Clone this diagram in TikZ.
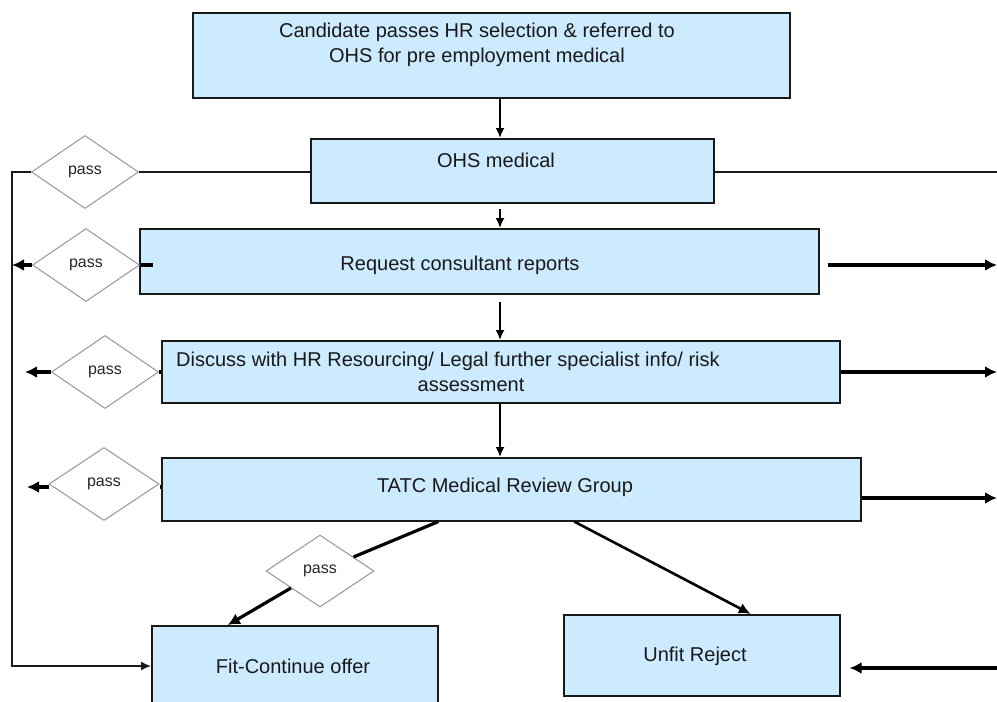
\documentclass[tikz,border=0pt]{standalone}
\usepackage{fontspec}
\setmainfont{Liberation Sans}
\usetikzlibrary{shapes.geometric,arrows.meta}
\definecolor{boxblue}{RGB}{204,235,255}
\definecolor{dgray}{RGB}{150,150,150}
\tikzset{
  box/.style={draw=black!90, line width=1.6pt, fill=boxblue, inner sep=0pt, anchor=north west},
  boxtext/.style={font=\fontsize{20}{25}\selectfont, align=center, inner sep=0pt, text=black!90},
  passd/.style={draw=dgray, line width=1pt, fill=white, shape=diamond, inner sep=0pt,
     minimum width=107pt, minimum height=73pt, font=\fontsize{16}{18}\selectfont, text=black!85},
  thin/.style={line width=1.5pt, black!90},
  down/.style={line width=1.8pt, -{Latex[length=10pt,width=9pt]}},
  fat/.style={line width=3.2pt, -{Latex[length=12pt,width=12pt]}},
}
\begin{document}
\begin{tikzpicture}[x=1pt,y=-1pt]
\clip (0,0) rectangle (997,702);
\fill[white] (0,0) rectangle (997,702);
% boxes
\node[box, minimum width=597pt, minimum height=85pt] (b1) at (192,12) {};
\node[box, minimum width=403pt, minimum height=64pt] (ohs) at (310,138) {};
\node[box, minimum width=679pt, minimum height=65pt] (req) at (139,228) {};
\node[box, minimum width=678pt, minimum height=62pt] (disc) at (161,340) {};
\node[box, minimum width=699pt, minimum height=63pt] (tatc) at (161,457) {};
\node[box, minimum width=286pt, minimum height=85pt] (fit) at (151,625) {};
\node[box, minimum width=276pt, minimum height=81pt] (unfit) at (563,614) {};
% texts
\node[boxtext] (t1) at (477,45) {Candidate passes HR selection \& referred to\\OHS for pre employment medical};
\node[boxtext] (t2) at (496,160) {OHS medical};
\node[boxtext] (t3) at (460,265) {Request consultant reports};
\node[boxtext] (t4) at (448,372) {Discuss with HR Resourcing/ Legal further specialist info/ risk\\\hspace*{46pt}assessment};
\node[boxtext] (t5) at (505,487) {TATC Medical Review Group};
\node[boxtext] (t6) at (293,666) {Fit-Continue offer};
\node[boxtext] (t7) at (695,656) {Unfit Reject};
% diamonds
\node[passd] (d1) at (85,172) {pass};
\node[passd] (d2) at (86,265) {pass};
\node[passd] (d3) at (105,372) {pass};
\node[passd, minimum width=110pt] (d4) at (104,484) {pass};
\node[passd, minimum width=108pt, minimum height=72pt] (d5) at (320,571) {pass};
% free ends
\coordinate (L1) at (12,172);
\coordinate (L1b) at (12,666);
\coordinate (R1) at (997,172);
\coordinate (L2) at (12,265);
\coordinate (R2) at (997,265);
\coordinate (L3) at (25,372);
\coordinate (R3) at (997,372);
\coordinate (L4) at (27,487);
\coordinate (R4) at (997,498);
\coordinate (R5) at (997,668);
% vertical arrows
\draw[down] (b1.south -| 500,0) -- (ohs.north -| 500,0);
\draw[down] ([yshift=-5pt]ohs.south -| 500,0) -- (req.north -| 500,0);
\draw[down] ([yshift=-7pt]req.south -| 500,0) -- (disc.north -| 500,0);
\draw[down] (disc.south -| 500,0) -- (tatc.north -| 500,0);
% OHS side lines
\draw[thin] (ohs.west |- d1) -- (d1.east);
\draw[thin, -{Latex[length=10pt,width=9pt]}] (d1.west) -- (L1) -- (L1b) -- (fit.west |- L1b);
\draw[thin] (ohs.east |- d1) -- (R1);
% request
\draw[line width=3.2pt] ([xshift=14pt]req.west |- d2) -- (d2.east);
\draw[fat] (d2.west) -- (L2);
\draw[fat] ([xshift=8pt]req.east |- R2) -- (R2);
% discuss
\draw[line width=3.2pt] (disc.west |- d3) -- (d3.east);
\draw[fat] (d3.west) -- (L3);
\draw[fat] (disc.east |- R3) -- (R3);
% tatc
\draw[line width=3.2pt] (tatc.west |- L4) -- (d4.east |- L4);
\draw[fat] (d4.west |- L4) -- (L4);
\draw[fat] (tatc.east |- R4) -- (R4);
\draw[line width=3.2pt] ([xshift=-73pt]tatc.south) -- (d5);
\draw[fat] (d5) -- ([xshift=-67pt]fit.north);
\draw[line width=2.6pt, -{Latex[length=12pt,width=11pt]}] ([xshift=63pt]tatc.south) -- ([xshift=49pt]unfit.north);
\draw[fat] (R5) -- ([xshift=9pt]unfit.east |- R5);
\end{tikzpicture}
\end{document}
